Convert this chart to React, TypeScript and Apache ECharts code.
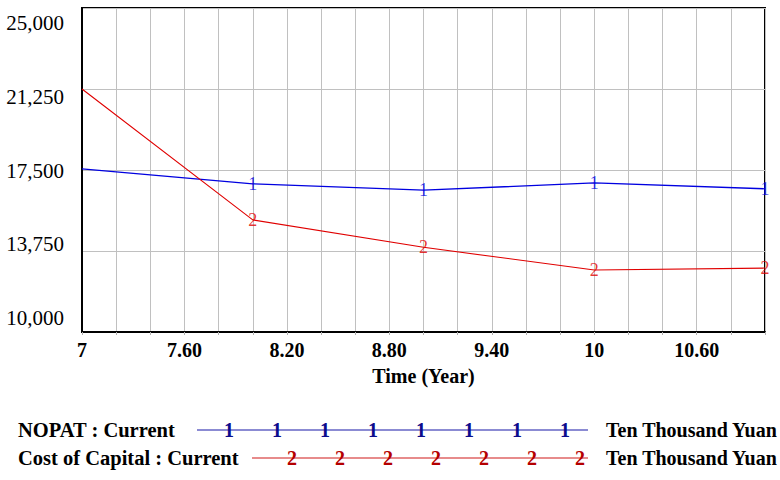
import React, { useEffect, useRef } from "react";
import * as echarts from "echarts";

// Simulation output, one value per year
const years = [7, 8, 9, 10, 11];
const nopat = [17550, 16860, 16570, 16900, 16630];
const costOfCapital = [21250, 15190, 13920, 12870, 12960];

// Years where the run markers ("1", "2") are stamped on the curves
const markerYears = [8, 9, 10, 11];

const seriesNames = ["NOPAT : Current", "Cost of Capital : Current"];
const seriesMarks = ["1", "2"];
const unitLabel = "Ten Thousand Yuan";
const xTickLabels = ["7", "7.60", "8.20", "8.80", "9.40", "10", "10.60"];
const xAxisTitle = "Time (Year)";

const LINE_COLORS = ["#0000e0", "#e00000"];
const LEGEND_LINE_COLORS = ["#1818a8", "#d01818"];
const LEGEND_MARK_COLORS = ["#0c0c8c", "#b40000"];
const SERIF = "Liberation Serif, Times New Roman, serif";

function pairs(values: number[]) {
  return years.map((y, i) => [y, values[i]]);
}

function markerPairs(values: number[]) {
  return years
    .map((y, i) => [y, values[i]])
    .filter(([y]) => markerYears.includes(y));
}

function legendGraphics() {
  const rows = [
    { y: 430, lineStart: 197, firstMark: 229, count: 8 },
    { y: 458, lineStart: 252, firstMark: 292, count: 7 },
  ];
  const lineEnd = 588;
  const step = 48;
  const els: any[] = [];
  rows.forEach((row, s) => {
    els.push({
      type: "text",
      x: 18,
      y: row.y,
      style: {
        text: seriesNames[s],
        fontFamily: SERIF,
        fontWeight: "bold",
        fontSize: 20.5,
        fill: "#000",
        verticalAlign: "middle",
      },
    });
    els.push({
      type: "line",
      shape: { x1: row.lineStart, y1: row.y, x2: lineEnd, y2: row.y },
      style: { stroke: LEGEND_LINE_COLORS[s], lineWidth: 1.2 },
    });
    for (let k = 0; k < row.count; k++) {
      els.push({
        type: "text",
        x: row.firstMark + k * step,
        y: row.y,
        style: {
          text: seriesMarks[s],
          fontFamily: SERIF,
          fontWeight: "bold",
          fontSize: 20,
          fill: LEGEND_MARK_COLORS[s],
          align: "center",
          verticalAlign: "middle",
        },
      });
    }
    els.push({
      type: "text",
      x: 606,
      y: row.y,
      style: {
        text: unitLabel,
        fontFamily: SERIF,
        fontWeight: "bold",
        fontSize: 20,
        fill: "#000",
        verticalAlign: "middle",
      },
    });
  });
  return els;
}

export default function App() {
  const ref = useRef<HTMLDivElement>(null);

  useEffect(() => {
    if (!ref.current) return;
    const chart = echarts.init(ref.current, undefined, { renderer: "svg" });

    const xMin = 7;
    const xStep = 0.2;

    chart.setOption({
      animation: false,
      backgroundColor: "#ffffff",
      textStyle: { fontFamily: SERIF },
      grid: [
        {
          left: 82,
          right: 15,
          top: 8,
          bottom: 148,
          show: true,
          borderColor: "#000",
          borderWidth: 2,
          backgroundColor: "transparent",
        },
        // label-only band for the value scale
        { left: 82, right: 15, top: 23, bottom: 162, show: false },
      ],
      xAxis: [
        {
          type: "value",
          gridIndex: 0,
          min: xMin,
          max: 11,
          interval: xStep,
          name: xAxisTitle,
          nameLocation: "middle",
          nameGap: 34,
          nameTextStyle: {
            fontFamily: SERIF,
            fontWeight: "bold",
            fontSize: 20,
            color: "#000",
          },
          axisLine: { show: true, lineStyle: { color: "#000", width: 2 } },
          axisTick: { show: true, length: 3, lineStyle: { color: "#b0b0b0" } },
          splitLine: { show: true, lineStyle: { color: "#c0c0c0", width: 1 } },
          axisLabel: {
            margin: 8,
            fontFamily: SERIF,
            fontWeight: "bold",
            fontSize: 20,
            color: "#000",
            showMinLabel: true,
            showMaxLabel: true,
            formatter: (v: number) => {
              const i = Math.round((v - xMin) / xStep);
              return i % 3 === 0 ? xTickLabels[i / 3] ?? "" : "";
            },
          },
        },
        {
          type: "value",
          gridIndex: 1,
          min: 0,
          max: 1,
          show: false,
        },
      ],
      yAxis: [
        {
          type: "value",
          gridIndex: 0,
          min: 10000,
          max: 25000,
          interval: 3750,
          axisLine: { show: true, lineStyle: { color: "#000", width: 2 } },
          axisTick: { show: false },
          axisLabel: { show: false },
          splitLine: { show: true, lineStyle: { color: "#c0c0c0", width: 1 } },
        },
        {
          type: "value",
          gridIndex: 1,
          min: 10000,
          max: 25000,
          interval: 3750,
          axisLine: { show: false },
          axisTick: { show: false },
          splitLine: { show: false },
          axisLabel: {
            show: true,
            margin: 18,
            fontFamily: SERIF,
            fontSize: 21,
            color: "#000",
            formatter: (v: number) => v.toLocaleString("en-US"),
          },
        },
      ],
      series: [
        {
          name: seriesNames[0],
          type: "line",
          xAxisIndex: 0,
          yAxisIndex: 0,
          data: pairs(nopat),
          showSymbol: false,
          lineStyle: { color: LINE_COLORS[0], width: 1.3 },
          z: 3,
        },
        {
          name: seriesNames[1],
          type: "line",
          xAxisIndex: 0,
          yAxisIndex: 0,
          data: pairs(costOfCapital),
          showSymbol: false,
          lineStyle: { color: LINE_COLORS[1], width: 1.1 },
          z: 3,
        },
        ...[nopat, costOfCapital].map((vals, s) => ({
          name: seriesNames[s] + " marks",
          type: "scatter",
          xAxisIndex: 0,
          yAxisIndex: 0,
          data: markerPairs(vals),
          symbol: "circle",
          symbolSize: 2,
          itemStyle: { color: "transparent" },
          z: 4,
          label: {
            show: true,
            position: "inside",
            formatter: seriesMarks[s],
            fontFamily: SERIF,
            fontSize: 18,
            color: LINE_COLORS[s],
          },
        })),
      ],
      graphic: legendGraphics(),
    });

    return () => chart.dispose();
  }, []);

  return (
    <div
      ref={ref}
      style={{ position: "fixed", left: 0, top: 0, width: 780, height: 480, background: "#fff" }}
    />
  );
}
